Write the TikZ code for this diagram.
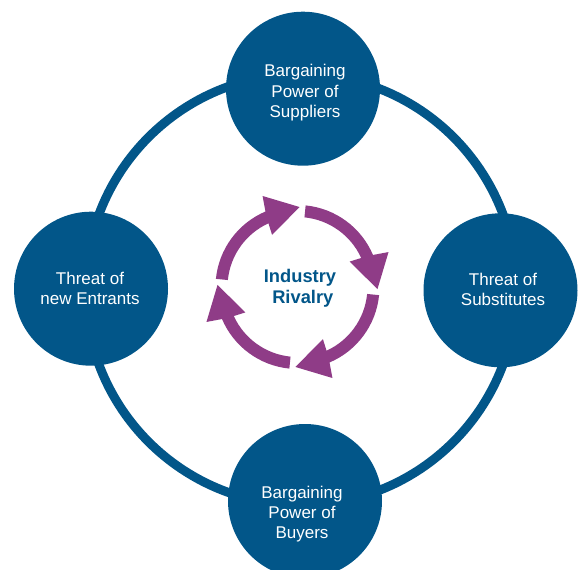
\documentclass[tikz,border=0pt]{standalone}
\usepackage{fontspec}
\setmainfont{Liberation Sans}
\definecolor{porterblue}{RGB}{2,86,137}
\definecolor{porterpurple}{RGB}{143,60,135}
\begin{document}
\begin{tikzpicture}[x=1pt,y=-1pt,
  bubble/.style={circle,fill=porterblue,minimum size=154pt,inner sep=0pt},
  ringline/.style={draw=porterblue,line width=9pt},
  wtxt/.style={anchor=base,text=white,font=\fontsize{17}{20}\selectfont,inner sep=0pt},
  rtxt/.style={anchor=base,text=porterblue,font=\bfseries\fontsize{18.3}{22}\selectfont,inner sep=0pt},
  cyc/.style={fill=porterpurple}]
\useasboundingbox (0,0) rectangle (579,570);
\clip (0,0) rectangle (579,570);
\coordinate (hub) at (301,289.5);
\draw[ringline] (hub) circle[radius=215.5pt];
% force circles
\node[bubble] (sup) at (303,88.7) {};
\node[bubble] (ent) at (91,288.7) {};
\node[bubble] (sub) at (500.5,290.3) {};
\node[bubble] (buy) at (305,501) {};
% labels
\node[wtxt] (sup1) at (305,76.7) {Bargaining};
\node[wtxt] (sup2) at (305,97) {Power of};
\node[wtxt] (sup3) at (305,117.3) {Suppliers};
\node[wtxt] (ent1) at (90,284) {Threat of};
\node[wtxt] (ent2) at (90,304) {new Entrants};
\node[wtxt] (sub1) at (503,285) {Threat of};
\node[wtxt] (sub2) at (503,305.5) {Substitutes};
\node[wtxt] (buy1) at (302,498) {Bargaining};
\node[wtxt] (buy2) at (302,518) {Power of};
\node[wtxt] (buy3) at (302,538) {Buyers};
% industry rivalry cycle
\begin{scope}[shift={(297.5,287)}]
  \foreach \q in {90,0,-90,180}{
    \fill[cyc] (\q+84.3:82pt) arc[start angle=\q+84.3, end angle=\q+23, radius=82pt]
      -- (\q+21:97.5pt) -- (\q-1.5:80pt) -- (\q+26:58pt) -- (\q+24.5:70pt)
      arc[start angle=\q+24.5, end angle=\q+84.3, radius=70pt] -- cycle;
  }
\end{scope}
\node[rtxt] (riv1) at (300,282.7) {Industry};
\node[rtxt] (riv2) at (302.8,303.3) {Rivalry};
\end{tikzpicture}
\end{document}
